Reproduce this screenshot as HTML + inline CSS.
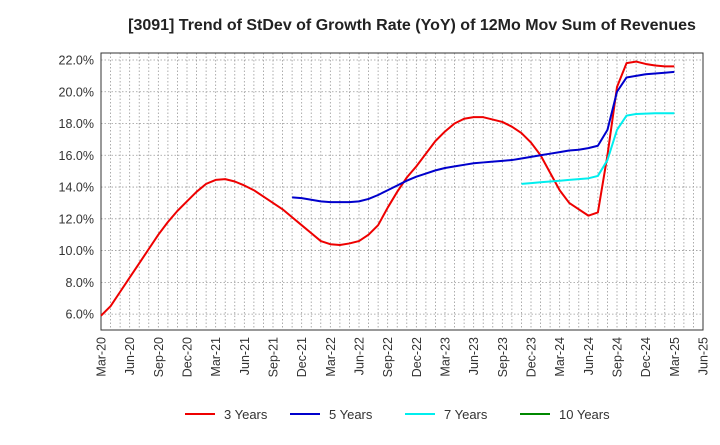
<!DOCTYPE html>
<html><head><meta charset="utf-8"><style>
body{margin:0;background:#fff;font-family:"Liberation Sans",sans-serif}
</style></head><body>
<svg id="c" width="720" height="440" xmlns="http://www.w3.org/2000/svg" font-family="Liberation Sans, sans-serif">
<text x="412" y="30" text-anchor="middle" font-size="16" font-weight="bold" fill="#222">[3091]  Trend of StDev of Growth Rate (YoY) of 12Mo Mov Sum of Revenues</text>
<g id="grid"></g><g id="axes"></g><g id="series"></g><g id="legend"></g>
</svg>
<script>
const xLabels=["Mar-20","Jun-20","Sep-20","Dec-20","Mar-21","Jun-21","Sep-21","Dec-21","Mar-22","Jun-22","Sep-22","Dec-22","Mar-23","Jun-23","Sep-23","Dec-23","Mar-24","Jun-24","Sep-24","Dec-24","Mar-25","Jun-25"];
const yTicks=[6,8,10,12,14,16,18,20,22];
const s3Start=0;
const s3=[5.9,6.5,7.4,8.3,9.2,10.1,11.0,11.8,12.5,13.1,13.7,14.2,14.45,14.5,14.35,14.1,13.8,13.4,13.0,12.6,12.1,11.6,11.1,10.6,10.4,10.35,10.45,10.6,11.0,11.6,12.7,13.7,14.6,15.3,16.1,16.9,17.5,18.0,18.3,18.4,18.4,18.25,18.1,17.8,17.4,16.8,16.0,14.9,13.8,13.0,12.6,12.2,12.4,16.0,20.3,21.8,21.9,21.75,21.65,21.6,21.6];
const s5Start=20;
const s5=[13.35,13.3,13.2,13.1,13.05,13.05,13.05,13.1,13.25,13.5,13.8,14.1,14.4,14.65,14.85,15.05,15.2,15.3,15.4,15.5,15.55,15.6,15.65,15.7,15.8,15.9,16.0,16.1,16.2,16.3,16.35,16.45,16.6,17.6,20.0,20.9,21.0,21.1,21.15,21.2,21.25];
const s7Start=44;
const s7=[14.2,14.25,14.3,14.35,14.4,14.45,14.5,14.55,14.7,15.7,17.6,18.5,18.6,18.62,18.65,18.65,18.65];
const s10=[];
const L=101,R=703,T=53,B=330,months=63,yMin=5,yMax=22.44;
const X=m=>L+(R-L)*m/months;
const Y=v=>B-(B-T)*(v-yMin)/(yMax-yMin);
const NS="http://www.w3.org/2000/svg";
function mk(p,t,a){const e=document.createElementNS(NS,t);for(const k in a)e.setAttribute(k,a[k]);p.appendChild(e);return e;}
const g=document.getElementById('grid'),ax=document.getElementById('axes'),se=document.getElementById('series'),lg=document.getElementById('legend');
for(let m=1;m<months;m++){const l=mk(g,'line',{x1:X(m),x2:X(m),y1:T,y2:B,stroke:'#999','stroke-dasharray':'1.5,2','stroke-width':0.8});

}
yTicks.forEach(v=>{const l=mk(g,'line',{x1:L,x2:R,y1:Y(v),y2:Y(v),stroke:'#999','stroke-dasharray':'1.5,2','stroke-width':0.8});


const t=mk(ax,'text',{x:L-7,y:Y(v)+4.5,'text-anchor':'end','font-size':12.5,fill:'#333'});t.textContent=v.toFixed(1)+'%';

});
xLabels.forEach((s,i)=>{const x=X(i*3);const t=mk(ax,'text',{x:0,y:0,'text-anchor':'end','font-size':12.5,fill:'#333',transform:`translate(${x+4.5},${B+7}) rotate(-90)`});t.textContent=s;

});
const fr=mk(ax,'rect',{x:L,y:T,width:R-L,height:B-T,fill:'none',stroke:'#333','stroke-width':1});


function line(arr,start,color,name){if(!arr.length)return;const p=mk(se,'polyline',{points:arr.map((v,i)=>X(start+i)+','+Y(v)).join(' '),fill:'none',stroke:color,'stroke-width':2,'stroke-linejoin':'round'});

}
line(s3,s3Start,'#e00','series-3-years');
line(s5,s5Start,'#00c','series-5-years');
line(s7,s7Start,'#0ee','series-7-years');
line(s10,0,'#080','series-10-years');
[['3 Years','#e00',185],['5 Years','#00c',290],['7 Years','#0ee',405],['10 Years','#080',520]].forEach(([n,c,x])=>{
const gg=mk(lg,'g',{});


mk(gg,'line',{x1:x,x2:x+30,y1:414,y2:414,stroke:c,'stroke-width':2});
const t=mk(gg,'text',{x:x+39,y:419,'font-size':13,fill:'#333'});t.textContent=n;});
</script>
</body></html>
